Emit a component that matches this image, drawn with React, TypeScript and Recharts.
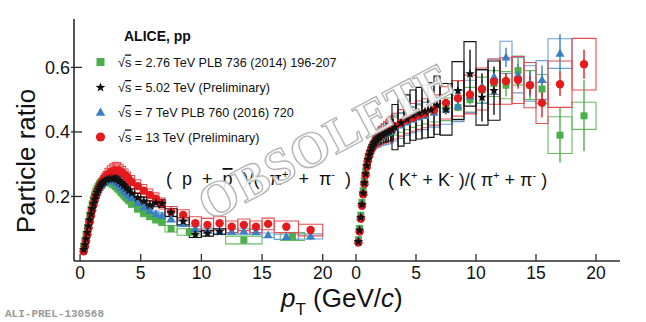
import React from "react";
import { ScatterChart, Scatter, XAxis, YAxis, ErrorBar, ReferenceArea } from "recharts";

const FONT = "'Liberation Sans', Arial, Helvetica, sans-serif";

const GREEN = "#4caf4a";
const GREEN_BOX = "#66bb66";
const BLACK = "#111111";
const BLUE = "#3a7fc2";
const BLUE_BOX = "#6a9fd4";
const RED = "#e41a1c";
const RED_BOX = "#e84c4e";

const X_TICKS = [0, 5, 10, 15, 20];
const Y_TICKS = [0.2, 0.4, 0.6];

// ---- (p + pbar)/(pi+ + pi-) : low pT grid shared by all energies
const ppLowPt = [0.3, 0.4, 0.5, 0.6, 0.7, 0.8, 0.9, 1.0, 1.1, 1.2, 1.3, 1.4, 1.5, 1.6, 1.7, 1.8, 1.9, 2.0, 2.2, 2.4, 2.6, 2.8, 3.0, 3.2, 3.4, 3.6, 3.8, 4.0];
const ppLowHw = [0.05, 0.05, 0.05, 0.05, 0.05, 0.05, 0.05, 0.1, 0.1, 0.1, 0.1, 0.1, 0.1, 0.1, 0.1, 0.1, 0.1, 0.1, 0.15, 0.15, 0.15, 0.15, 0.15, 0.15, 0.15, 0.15, 0.15, 0.15];

const ppGreenLow = [0.045, 0.062, 0.082, 0.102, 0.122, 0.142, 0.160, 0.177, 0.192, 0.205, 0.216, 0.225, 0.233, 0.239, 0.244, 0.247, 0.249, 0.250, 0.250, 0.247, 0.242, 0.236, 0.229, 0.221, 0.212, 0.204, 0.196, 0.188];
const ppGreenLowSys = [0.004, 0.005, 0.006, 0.007, 0.008, 0.009, 0.010, 0.011, 0.012, 0.013, 0.013, 0.014, 0.014, 0.015, 0.015, 0.015, 0.015, 0.015, 0.015, 0.015, 0.015, 0.014, 0.014, 0.014, 0.013, 0.013, 0.012, 0.012];
const ppBlackLow = [0.035, 0.050, 0.068, 0.088, 0.108, 0.127, 0.145, 0.162, 0.177, 0.191, 0.203, 0.213, 0.222, 0.229, 0.235, 0.240, 0.244, 0.247, 0.252, 0.255, 0.256, 0.255, 0.252, 0.247, 0.240, 0.233, 0.226, 0.218];
const ppBlackLowSys = [0.003, 0.004, 0.005, 0.006, 0.007, 0.008, 0.009, 0.010, 0.011, 0.011, 0.012, 0.012, 0.013, 0.013, 0.013, 0.014, 0.014, 0.014, 0.014, 0.014, 0.014, 0.014, 0.014, 0.014, 0.013, 0.013, 0.013, 0.012];
const ppBlueLow = [0.038, 0.053, 0.071, 0.090, 0.110, 0.129, 0.147, 0.163, 0.178, 0.191, 0.202, 0.212, 0.220, 0.227, 0.233, 0.238, 0.242, 0.245, 0.249, 0.250, 0.249, 0.246, 0.241, 0.234, 0.226, 0.218, 0.210, 0.202];
const ppBlueLowSys = [0.003, 0.004, 0.005, 0.006, 0.007, 0.008, 0.009, 0.010, 0.011, 0.011, 0.012, 0.012, 0.013, 0.013, 0.013, 0.014, 0.014, 0.014, 0.014, 0.014, 0.014, 0.014, 0.014, 0.013, 0.013, 0.013, 0.012, 0.012];
const ppRedLow = [0.030, 0.045, 0.062, 0.082, 0.102, 0.122, 0.141, 0.158, 0.174, 0.188, 0.201, 0.212, 0.222, 0.231, 0.239, 0.246, 0.252, 0.257, 0.265, 0.272, 0.277, 0.280, 0.281, 0.280, 0.276, 0.270, 0.263, 0.255];
const ppRedLowSys = [0.003, 0.004, 0.005, 0.006, 0.007, 0.008, 0.010, 0.011, 0.012, 0.013, 0.014, 0.015, 0.016, 0.017, 0.018, 0.019, 0.020, 0.021, 0.022, 0.023, 0.024, 0.025, 0.025, 0.025, 0.024, 0.023, 0.022, 0.021];

// ---- p/pi : higher pT bins
const ppGreenPt = [4.25, 4.75, 5.25, 5.75, 6.25, 6.75, 7.5, 9, 13.5, 17.5];
const ppGreenVal = [0.178, 0.162, 0.148, 0.138, 0.128, 0.12, 0.1, 0.09, 0.065, 0.076];
const ppGreenStat = [0.002, 0.002, 0.002, 0.003, 0.003, 0.004, 0.005, 0.007, 0.006, 0.008];
const ppGreenSys = [0.012, 0.011, 0.011, 0.01, 0.01, 0.01, 0.01, 0.01, 0.012, 0.012];
const ppGreenHw = [0.25, 0.25, 0.25, 0.25, 0.25, 0.25, 0.5, 1, 1.5, 1];

const ppBlackPt = [4.25, 4.75, 5.25, 5.75, 6.25, 6.75, 7.5, 8.5, 9.5, 10.5, 11.5];
const ppBlackVal = [0.21, 0.196, 0.185, 0.174, 0.18, 0.178, 0.15, 0.123, 0.082, 0.086, 0.091];
const ppBlackStat = [0.002, 0.002, 0.003, 0.003, 0.004, 0.004, 0.005, 0.006, 0.006, 0.008, 0.009];
const ppBlackSys = [0.013, 0.013, 0.013, 0.012, 0.012, 0.012, 0.012, 0.011, 0.009, 0.009, 0.009];
const ppBlackHw = [0.25, 0.25, 0.25, 0.25, 0.25, 0.25, 0.5, 0.5, 0.5, 0.5, 0.5];

const ppBluePt = [4.25, 4.75, 5.25, 5.75, 6.25, 6.75, 7.5, 8.5, 9.5, 10.5, 11.5, 12.5, 13.5, 14.5, 15.5, 17, 19];
const ppBlueVal = [0.195, 0.18, 0.166, 0.155, 0.146, 0.14, 0.13, 0.115, 0.1, 0.094, 0.092, 0.091, 0.092, 0.09, 0.08, 0.075, 0.076];
const ppBlueStat = [0.002, 0.002, 0.002, 0.003, 0.003, 0.003, 0.004, 0.005, 0.005, 0.006, 0.006, 0.006, 0.007, 0.007, 0.008, 0.009, 0.01];
const ppBlueSys = [0.012, 0.011, 0.01, 0.01, 0.009, 0.009, 0.009, 0.008, 0.008, 0.008, 0.008, 0.008, 0.008, 0.008, 0.007, 0.008, 0.008];
const ppBlueHw = [0.25, 0.25, 0.25, 0.25, 0.25, 0.25, 0.5, 0.5, 0.5, 0.5, 0.5, 0.5, 0.5, 0.5, 0.5, 1, 1];

const ppRedPt = [4.25, 4.75, 5.25, 5.75, 6.25, 6.75, 7.5, 8.5, 9.5, 10.5, 11.5, 12.5, 13.5, 14.5, 15.5, 17, 19];
const ppRedVal = [0.245, 0.232, 0.218, 0.205, 0.193, 0.178, 0.153, 0.143, 0.117, 0.112, 0.117, 0.106, 0.112, 0.106, 0.115, 0.106, 0.096];
const ppRedStat = [0.002, 0.002, 0.003, 0.003, 0.003, 0.004, 0.004, 0.005, 0.005, 0.006, 0.006, 0.007, 0.007, 0.008, 0.008, 0.01, 0.012];
const ppRedSys = [0.02, 0.02, 0.019, 0.018, 0.018, 0.017, 0.016, 0.016, 0.02, 0.02, 0.02, 0.018, 0.018, 0.018, 0.018, 0.018, 0.018];
const ppRedHw = [0.25, 0.25, 0.25, 0.25, 0.25, 0.25, 0.5, 0.5, 0.5, 0.5, 0.5, 0.5, 0.5, 0.5, 0.5, 1, 1];

// ---- (K+ + K-)/(pi+ + pi-) : low pT grid
const kpLowPt = [0.2, 0.3, 0.4, 0.5, 0.6, 0.7, 0.8, 0.9, 1.0, 1.1, 1.2, 1.3, 1.4, 1.5, 1.6, 1.7, 1.8, 1.9, 2.0, 2.2, 2.4, 2.6, 2.8, 3.0];
const kpLowHw = [0.05, 0.05, 0.05, 0.05, 0.05, 0.05, 0.05, 0.05, 0.1, 0.1, 0.1, 0.1, 0.1, 0.1, 0.1, 0.1, 0.1, 0.1, 0.1, 0.1, 0.1, 0.1, 0.1, 0.1];

const kpGreenLow = [0.066, 0.101, 0.142, 0.182, 0.218, 0.250, 0.277, 0.300, 0.318, 0.331, 0.342, 0.351, 0.359, 0.365, 0.370, 0.374, 0.378, 0.381, 0.384, 0.389, 0.393, 0.397, 0.400, 0.404];
const kpGreenLowSys = [0.003, 0.004, 0.005, 0.006, 0.007, 0.008, 0.009, 0.010, 0.011, 0.012, 0.013, 0.014, 0.015, 0.016, 0.017, 0.018, 0.019, 0.020, 0.021, 0.022, 0.023, 0.024, 0.025, 0.026];
const kpBlackLow = [0.060, 0.095, 0.135, 0.175, 0.210, 0.242, 0.270, 0.295, 0.314, 0.328, 0.340, 0.350, 0.358, 0.365, 0.370, 0.375, 0.379, 0.382, 0.385, 0.390, 0.394, 0.398, 0.402, 0.406];
const kpBlackLowSys = [0.003, 0.004, 0.005, 0.006, 0.007, 0.008, 0.009, 0.010, 0.011, 0.012, 0.013, 0.014, 0.015, 0.016, 0.017, 0.018, 0.019, 0.020, 0.022, 0.024, 0.026, 0.028, 0.030, 0.032];
const kpBlueLow = [0.063, 0.098, 0.138, 0.178, 0.213, 0.245, 0.272, 0.296, 0.315, 0.329, 0.341, 0.351, 0.359, 0.366, 0.371, 0.376, 0.380, 0.383, 0.386, 0.391, 0.395, 0.399, 0.403, 0.407];
const kpBlueLowSys = [0.003, 0.004, 0.005, 0.006, 0.007, 0.008, 0.009, 0.010, 0.012, 0.014, 0.016, 0.018, 0.020, 0.022, 0.024, 0.026, 0.028, 0.030, 0.032, 0.034, 0.036, 0.038, 0.040, 0.040];
const kpRedLow = [0.057, 0.091, 0.131, 0.171, 0.207, 0.239, 0.267, 0.292, 0.312, 0.327, 0.339, 0.349, 0.357, 0.364, 0.370, 0.375, 0.380, 0.384, 0.387, 0.393, 0.398, 0.403, 0.407, 0.411];
const kpRedLowSys = [0.003, 0.004, 0.005, 0.006, 0.007, 0.008, 0.009, 0.010, 0.011, 0.012, 0.014, 0.016, 0.018, 0.020, 0.022, 0.024, 0.026, 0.028, 0.030, 0.032, 0.034, 0.036, 0.038, 0.040];

// ---- K/pi : higher pT bins
const kpGreenPt = [3.25, 3.75, 4.25, 4.75, 5.25, 5.75, 6.5, 7.5, 8.5, 9.5, 10.5, 11.5, 12.5, 13.5, 14.5, 15.5, 17, 19];
const kpGreenVal = [0.418, 0.428, 0.437, 0.445, 0.452, 0.458, 0.465, 0.47, 0.476, 0.5, 0.53, 0.55, 0.545, 0.59, 0.545, 0.533, 0.39, 0.45];
const kpGreenStat = [0.002, 0.003, 0.003, 0.004, 0.005, 0.006, 0.008, 0.01, 0.012, 0.015, 0.025, 0.03, 0.035, 0.04, 0.045, 0.05, 0.085, 0.11];
const kpGreenSys = [0.028, 0.029, 0.03, 0.031, 0.032, 0.033, 0.034, 0.035, 0.036, 0.038, 0.04, 0.04, 0.042, 0.045, 0.045, 0.045, 0.057, 0.042];
const kpGreenHw = [0.25, 0.25, 0.25, 0.25, 0.25, 0.25, 0.5, 0.5, 0.5, 0.5, 0.5, 0.5, 0.5, 0.5, 0.5, 0.5, 1, 1];

const kpBlackPt = [3.25, 3.75, 4.25, 4.75, 5.25, 5.75, 6.25, 6.75, 7.5, 8.5, 9.5, 10.5, 11.5];
const kpBlackVal = [0.415, 0.428, 0.44, 0.452, 0.458, 0.463, 0.468, 0.483, 0.47, 0.528, 0.58, 0.507, 0.528];
const kpBlackStat = [0.002, 0.003, 0.003, 0.004, 0.004, 0.005, 0.006, 0.008, 0.015, 0.03, 0.075, 0.075, 0.075];
const kpBlackSys = [0.07, 0.072, 0.075, 0.078, 0.08, 0.082, 0.085, 0.09, 0.08, 0.09, 0.1, 0.086, 0.092];
const kpBlackHw = [0.25, 0.25, 0.25, 0.25, 0.25, 0.25, 0.25, 0.25, 0.5, 0.5, 0.5, 0.5, 0.5];

const kpBluePt = [3.25, 3.75, 4.25, 4.75, 5.25, 5.75, 6.5, 7.5, 8.5, 9.5, 10.5, 11.5, 12.5, 13.5, 14.5, 15.5, 17];
const kpBlueVal = [0.412, 0.42, 0.43, 0.438, 0.445, 0.45, 0.46, 0.47, 0.48, 0.51, 0.54, 0.571, 0.631, 0.576, 0.55, 0.561, 0.643];
const kpBlueStat = [0.002, 0.003, 0.003, 0.004, 0.005, 0.006, 0.008, 0.01, 0.012, 0.015, 0.02, 0.025, 0.03, 0.035, 0.04, 0.045, 0.06];
const kpBlueSys = [0.04, 0.04, 0.04, 0.041, 0.042, 0.043, 0.045, 0.046, 0.048, 0.05, 0.052, 0.055, 0.05, 0.055, 0.055, 0.06, 0.046];
const kpBlueHw = [0.25, 0.25, 0.25, 0.25, 0.25, 0.25, 0.5, 0.5, 0.5, 0.5, 0.5, 0.5, 0.5, 0.5, 0.5, 0.5, 1];

const kpRedPt = [3.25, 3.75, 4.25, 4.75, 5.25, 5.75, 6.5, 7.5, 8.5, 9.5, 10.5, 11.5, 12.5, 13.5, 14.5, 15.5, 17, 19];
const kpRedVal = [0.418, 0.428, 0.438, 0.445, 0.452, 0.458, 0.468, 0.49, 0.504, 0.516, 0.533, 0.556, 0.558, 0.561, 0.545, 0.49, 0.548, 0.61];
const kpRedStat = [0.002, 0.003, 0.003, 0.004, 0.005, 0.006, 0.008, 0.01, 0.012, 0.015, 0.02, 0.022, 0.025, 0.027, 0.03, 0.045, 0.037, 0.045];
const kpRedSys = [0.04, 0.041, 0.042, 0.043, 0.044, 0.045, 0.047, 0.05, 0.055, 0.06, 0.065, 0.07, 0.072, 0.073, 0.07, 0.064, 0.072, 0.08];
const kpRedHw = [0.25, 0.25, 0.25, 0.25, 0.25, 0.25, 0.5, 0.5, 0.5, 0.5, 0.5, 0.5, 0.5, 0.5, 0.5, 0.5, 1, 1];

type Row = { x: number; y: number; stat: number; sys: number; hw: number };

function toRows(pt: number[], val: number[], stat: number[] | null, sys: number[], hw: number[]): Row[] {
  return pt.map((x, i) => ({ x, y: val[i], stat: stat ? stat[i] : 0, sys: sys[i], hw: hw[i] }));
}

// marker shapes
const squareShape = (s: number) => (p: any) => (
  <rect x={p.cx - s / 2} y={p.cy - s / 2} width={s} height={s} fill={GREEN} />
);
const circleShape = (r: number) => (p: any) => <circle cx={p.cx} cy={p.cy} r={r} fill={RED} />;
const triangleShape = (s: number) => (p: any) => {
  const h = s * 0.87;
  return (
    <polygon
      points={`${p.cx},${p.cy - h * 0.6} ${p.cx - s / 2},${p.cy + h * 0.4} ${p.cx + s / 2},${p.cy + h * 0.4}`}
      fill={BLUE}
    />
  );
};
const starShape = (r: number) => (p: any) => {
  const pts: string[] = [];
  for (let i = 0; i < 10; i++) {
    const rr = i % 2 === 0 ? r : r * 0.42;
    const a = -Math.PI / 2 + (i * Math.PI) / 5;
    pts.push(`${p.cx + rr * Math.cos(a)},${p.cy + rr * Math.sin(a)}`);
  }
  return <polygon points={pts.join(" ")} fill={BLACK} />;
};

type Series = { key: string; color: string; box: string; rows: Row[]; shape: (p: any) => React.ReactElement };

const ppSeries: Series[] = [
  { key: "g", color: GREEN, box: GREEN_BOX, shape: squareShape(7), rows: [...toRows(ppLowPt, ppGreenLow, null, ppGreenLowSys, ppLowHw), ...toRows(ppGreenPt, ppGreenVal, ppGreenStat, ppGreenSys, ppGreenHw)] },
  { key: "b", color: BLUE, box: BLUE_BOX, shape: triangleShape(9), rows: [...toRows(ppLowPt, ppBlueLow, null, ppBlueLowSys, ppLowHw), ...toRows(ppBluePt, ppBlueVal, ppBlueStat, ppBlueSys, ppBlueHw)] },
  { key: "r", color: RED, box: RED_BOX, shape: circleShape(4.2), rows: [...toRows(ppLowPt, ppRedLow, null, ppRedLowSys, ppLowHw), ...toRows(ppRedPt, ppRedVal, ppRedStat, ppRedSys, ppRedHw)] },
  { key: "k", color: BLACK, box: BLACK, shape: starShape(5), rows: [...toRows(ppLowPt, ppBlackLow, null, ppBlackLowSys, ppLowHw), ...toRows(ppBlackPt, ppBlackVal, ppBlackStat, ppBlackSys, ppBlackHw)] },
];

const kpSeries: Series[] = [
  { key: "g", color: GREEN, box: GREEN_BOX, shape: squareShape(7), rows: [...toRows(kpLowPt, kpGreenLow, null, kpGreenLowSys, kpLowHw), ...toRows(kpGreenPt, kpGreenVal, kpGreenStat, kpGreenSys, kpGreenHw)] },
  { key: "b", color: BLUE, box: BLUE_BOX, shape: triangleShape(9), rows: [...toRows(kpLowPt, kpBlueLow, null, kpBlueLowSys, kpLowHw), ...toRows(kpBluePt, kpBlueVal, kpBlueStat, kpBlueSys, kpBlueHw)] },
  { key: "r", color: RED, box: RED_BOX, shape: circleShape(4.2), rows: [...toRows(kpLowPt, kpRedLow, null, kpRedLowSys, kpLowHw), ...toRows(kpRedPt, kpRedVal, kpRedStat, kpRedSys, kpRedHw)] },
  { key: "k", color: BLACK, box: BLACK, shape: starShape(5), rows: [...toRows(kpLowPt, kpBlackLow, null, kpBlackLowSys, kpLowHw), ...toRows(kpBlackPt, kpBlackVal, kpBlackStat, kpBlackSys, kpBlackHw)] },
];

const AXIS_STROKE = "#2a2a2a";

const BottomTick = (p: any) => (
  <g>
    <line x1={p.x} y1={p.y} x2={p.x} y2={p.y - 7} stroke={AXIS_STROKE} strokeWidth={1.3} />
    <text x={p.x} y={p.y + 18} textAnchor="middle" fontSize={17.5} fontFamily={FONT} fill="#111">
      {p.payload.value}
    </text>
  </g>
);
const TopTick = (p: any) => (
  <line x1={p.x} y1={p.y} x2={p.x} y2={p.y + 7} stroke={AXIS_STROKE} strokeWidth={1.3} />
);
const LeftTickLabel = (p: any) => (
  <g>
    <line x1={p.x - 3} y1={p.y} x2={p.x + 8} y2={p.y} stroke={AXIS_STROKE} strokeWidth={1.3} />
    <text x={p.x - 4} y={p.y + 6.5} textAnchor="end" fontSize={18} fontFamily={FONT} fill="#111">
      {p.payload.value}
    </text>
  </g>
);
const LeftTick = (p: any) => (
  <line x1={p.x} y1={p.y} x2={p.x + 8} y2={p.y} stroke={AXIS_STROKE} strokeWidth={1.3} />
);
const RightTick = (p: any) => (
  <line x1={p.x} y1={p.y} x2={p.x - 8} y2={p.y} stroke={AXIS_STROKE} strokeWidth={1.3} />
);

type PanelProps = { series: Series[]; width: number; left: number; yWidth: number; marginRight: number; xMin: number };

function Panel({ series, width, left, yWidth, marginRight, xMin }: PanelProps) {
  const axisLine = { stroke: AXIS_STROKE, strokeWidth: 1.6 };
  const xDomain = [xMin, 22];
  return (
    <div style={{ position: "absolute", left, top: 0 }}>
      <ScatterChart width={width} height={322} margin={{ top: 19, right: marginRight, bottom: 0, left: 0 }}>
        <XAxis dataKey="x" type="number" domain={xDomain} allowDataOverflow ticks={X_TICKS} interval={0}
          height={61} tickSize={0} tickMargin={0} tickLine={false} axisLine={axisLine} tick={BottomTick} />
        <XAxis xAxisId="top" orientation="top" type="number" domain={xDomain} allowDataOverflow ticks={X_TICKS} interval={0}
          height={0} tickSize={0} tickMargin={0} tickLine={false} axisLine={axisLine} tick={TopTick} />
        <YAxis dataKey="y" type="number" domain={[0, 0.75]} allowDataOverflow ticks={Y_TICKS} interval={0}
          width={yWidth} tickSize={0} tickMargin={0} tickLine={false} axisLine={axisLine}
          tick={yWidth > 0 ? LeftTickLabel : LeftTick} />
        <YAxis yAxisId="right" orientation="right" type="number" domain={[0, 0.75]} allowDataOverflow ticks={Y_TICKS} interval={0}
          width={0} tickSize={0} tickMargin={0} tickLine={false} axisLine={axisLine} tick={RightTick} />
        {series.map((s) =>
          s.rows.map((r, i) => (
            <ReferenceArea key={`${s.key}-box-${i}`} x1={r.x - r.hw} x2={r.x + r.hw} y1={r.y - r.sys} y2={r.y + r.sys}
              fill="none" fillOpacity={0} stroke={s.box} strokeWidth={1.1} ifOverflow="visible" />
          ))
        )}
        {series.map((s) => (
          <Scatter key={s.key} data={s.rows} dataKey="y" shape={s.shape} isAnimationActive={false}>
            <ErrorBar dataKey="stat" direction="y" width={0} stroke={s.color} strokeWidth={1.4} />
          </Scatter>
        ))}
      </ScatterChart>
    </div>
  );
}

function Overlay() {
  const legendX = 100.5;
  const textX = 118;
  const rows = [
    { y: 62, shape: squareShape(8), label: "= 2.76 TeV PLB 736 (2014) 196-207" },
    { y: 87.5, shape: starShape(5), label: "= 5.02 TeV (Preliminary)" },
    { y: 112.5, shape: triangleShape(9.5), label: "= 7 TeV PLB 760 (2016) 720" },
    { y: 137, shape: circleShape(4.6), label: "= 13 TeV (Preliminary)" },
  ];
  return (
    <svg width={646} height={322} style={{ position: "absolute", left: 0, top: 0, pointerEvents: "none" }}>
      <text x={124} y={41} fontSize={14} fontWeight="bold" fontFamily={FONT} fill="#111">ALICE, pp</text>
      {rows.map((r, i) => (
        <g key={i}>
          {r.shape({ cx: legendX, cy: r.y })}
          <text x={textX} y={r.y + 4.5} fontSize={12.6} fontFamily={FONT} fill="#111">
            √<tspan textDecoration="overline">s</tspan> {r.label}
          </text>
        </g>
      ))}
      <text x={166} y={185} fontSize={18} fontFamily={FONT} fill="#111" xmlSpace="preserve">
        (  p  +  <tspan textDecoration="overline">p</tspan>  )/(  π<tspan dy={-7} fontSize={11}>+</tspan><tspan dy={7}>  +  π</tspan><tspan dy={-7} fontSize={11}>-</tspan><tspan dy={7}>  )</tspan>
      </text>
      <text x={388} y={186} fontSize={18} fontFamily={FONT} fill="#111" xmlSpace="preserve">
        ( K<tspan dy={-7} fontSize={11}>+</tspan><tspan dy={7}> + K</tspan><tspan dy={-7} fontSize={11}>-</tspan><tspan dy={7}> )/( π</tspan><tspan dy={-7} fontSize={11}>+</tspan><tspan dy={7}> + π</tspan><tspan dy={-7} fontSize={11}>-</tspan><tspan dy={7}> )</tspan>
      </text>
      <text x={328} y={146} textAnchor="middle" dominantBaseline="middle" fontFamily="'Liberation Serif', serif"
        fontSize={50} fontWeight="bold" letterSpacing={1} fill="#ffffff" fillOpacity={0.9} stroke="#b4b4b4" strokeWidth={1.4}
        transform="rotate(-28 328 146)">OBSOLETE</text>
      <text x={35} y={161} textAnchor="middle" fontSize={26} fontFamily={FONT} fill="#111" transform="rotate(-90 35 161)">
        Particle ratio
      </text>
      <text x={281} y={307} fontSize={26} fontFamily={FONT} fill="#111">
        <tspan fontStyle="italic">p</tspan><tspan dy={8} fontSize={17}>T</tspan><tspan dy={-8}> (GeV/</tspan><tspan fontStyle="italic">c</tspan>)
      </text>
      <text x={5} y={317} fontSize={11} fontFamily="'Liberation Mono', monospace" fill="#9a9a9a" fontWeight="bold">ALI-PREL-130568</text>
    </svg>
  );
}

export default function App() {
  return (
    <div style={{ position: "absolute", left: 0, top: 0, width: 646, height: 322, background: "#fff", overflow: "hidden" }}>
      <Panel series={ppSeries} width={347} left={0} yWidth={74} marginRight={0} xMin={-0.5} />
      <Panel series={kpSeries} width={299} left={347} yWidth={0} marginRight={26} xMin={-0.75} />
      <Overlay />
    </div>
  );
}
